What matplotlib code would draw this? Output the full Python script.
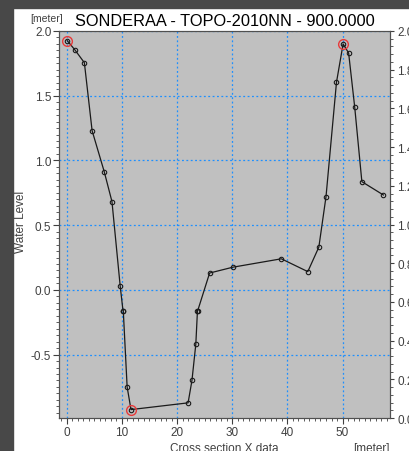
import matplotlib
matplotlib.use("Agg")
import matplotlib.pyplot as plt
from matplotlib.patches import Rectangle
from matplotlib.ticker import MultipleLocator, AutoMinorLocator

# data (cross section)
jarak = [0.1, 1.5, 3.2, 4.6, 6.8, 8.2, 9.7, 10.2, 10.25, 10.95, 11.65,
         22.0, 22.7, 23.4, 23.7, 23.75, 25.9, 30.1, 38.9, 43.7, 45.7,
         47.0, 48.9, 50.1, 51.1, 52.2, 53.5, 57.4]
elevasi = [1.925, 1.853, 1.755, 1.23, 0.913, 0.682, 0.026, -0.16, -0.16,
           -0.75, -0.925, -0.873, -0.70, -0.42, -0.16, -0.16, 0.13, 0.175,
           0.24, 0.141, 0.33, 0.72, 1.604, 1.90, 1.83, 1.413, 0.836, 0.733]
titik_merah = [0, 10, 23]

judul = "SONDERAA - TOPO-2010NN - 900.0000"
kiri_ticks = [-0.5, 0.0, 0.5, 1.0, 1.5, 2.0]
kanan_ticks = [0.0, 0.2, 0.4, 0.6, 0.8, 1.0, 1.2, 1.4, 1.6, 1.8, 2.0]
bawah_ticks = [0, 10, 20, 30, 40, 50]

plt.rcParams['font.family'] = ['Liberation Sans', 'DejaVu Sans']

W, H = 409, 452
fig = plt.figure(figsize=(W / 100, H / 100), dpi=100, facecolor='white')

# bingkai gelap kiri dan atas
fig.add_artist(Rectangle((0, 0), 13 / W, 1, transform=fig.transFigure,
                         color='#484848', zorder=0))
fig.add_artist(Rectangle((0, 1 - 9 / H), 1, 9 / H, transform=fig.transFigure,
                         color='#484848', zorder=0))

x0, x1, y0, y1 = 59, 390, 32, 419
ax = fig.add_axes([x0 / W, 1 - y1 / H, (x1 - x0) / W, (y1 - y0) / H])
ax.set_facecolor('#c0c0c0')

teks = '#404040'
ax.plot(jarak, elevasi, color='#1a1a1a', lw=0.9, marker='o', ms=3.2,
        mfc='none', mec='#1a1a1a', mew=0.8, zorder=3)
ax.plot([jarak[i] for i in titik_merah], [elevasi[i] for i in titik_merah],
        ls='none', marker='o', ms=7, mfc='none', mec='#e83a3a', mew=1.0,
        zorder=4)

ax.set_xlim(-1.4, 58.6)
ax.set_ylim(-0.99, 2.0)
ax.set_xticks(bawah_ticks)
ax.set_yticks(kiri_ticks)
ax.set_yticklabels(["%.1f" % v for v in kiri_ticks])
ax.xaxis.set_minor_locator(MultipleLocator(1))
ax.yaxis.set_minor_locator(MultipleLocator(0.05))
ax.grid(True, which='major', color='#1e90ff', ls=(0, (1.5, 2)), lw=0.9)
ax.set_axisbelow(True)
ax.tick_params(which='both', direction='out', colors=teks, labelsize=8.5,
               labelcolor=teks, pad=1.2)
ax.tick_params(which='major', length=4.3)
ax.tick_params(which='minor', length=2.2)
for s in ax.spines.values():
    s.set_color('#505050')

ax2 = ax.twinx()
ax2.set_ylim(0, 2.0)
ax2.set_yticks(kanan_ticks)
ax2.set_yticklabels(["%.1f" % v for v in kanan_ticks])
ax2.yaxis.set_minor_locator(AutoMinorLocator(5))
ax2.tick_params(which='both', direction='out', colors=teks, labelsize=8.5,
                labelcolor=teks, pad=2.2)
ax2.tick_params(which='major', length=3.2)
ax2.tick_params(which='minor', length=2.2)
for s in ax2.spines.values():
    s.set_color('#505050')

cx = (x0 + x1) / 2 / W
fig.text(cx, 1 - 26 / H, judul, ha='center', va='baseline', fontsize=11.8,
         color='black')
fig.text(30 / W, 1 - 22 / H, "[meter]", ha='left', va='baseline',
         fontsize=7.5, color=teks)
fig.text(21 / W, 1 - 222 / H, "Water Level", rotation=90, ha='center',
         va='center', fontsize=8.5, color=teks)
fig.text(cx, 1 - 443 / H, "Cross section X data", ha='center', va='top',
         fontsize=8.5, color=teks)
fig.text(390 / W, 1 - 443 / H, "[meter]", ha='right', va='top',
         fontsize=8.5, color=teks)

fig.savefig("out.png", dpi=100)
